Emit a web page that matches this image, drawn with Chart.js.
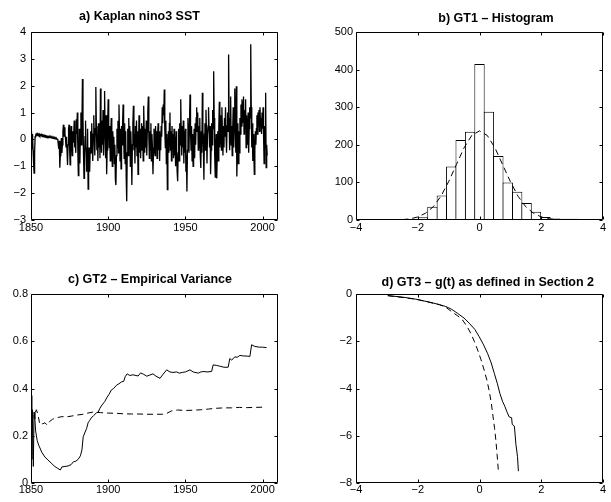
<!DOCTYPE html>
<html>
<head>
<meta charset="utf-8">
<title>GT panels</title>
<script src="https://cdn.jsdelivr.net/npm/chart.js@4.4.1/dist/chart.umd.min.js"></script>
<style>
  html, body { margin: 0; padding: 0; background: #fff; overflow: hidden; }
  .panel { position: absolute; }
</style>
</head>
<body>
<div class="panel" style="left:0;top:0;width:290px;height:240px"><canvas id="chartA"></canvas></div>
<div class="panel" style="left:305px;top:0;width:306px;height:240px"><canvas id="chartB"></canvas></div>
<div class="panel" style="left:0;top:251px;width:290px;height:251px"><canvas id="chartC"></canvas></div>
<div class="panel" style="left:305px;top:251px;width:306px;height:251px"><canvas id="chartD"></canvas></div>
<script>
// a) Kaplan nino3 SST, three readings per year starting 1850
const sstStart = 1850;
const sstPerYear = 3;
const sstValues = [
  0.30, 0.05, -0.35,   0.20, -0.40, -0.90,   -1.25, -0.50, 0.10,   0.15, 0.20, 0.18,   0.22, 0.18, 0.20,
  0.17, 0.20, 0.15,   0.18, 0.16, 0.19,   0.15, 0.17, 0.14,   0.16, 0.13, 0.15,   0.12, 0.14, 0.11,
  0.13, 0.10, 0.12,   0.09, 0.11, 0.08,   0.10, 0.07, 0.09,   0.06, 0.08, 0.05,   0.07, 0.04, 0.06,
  0.03, 0.05, 0.02,   0.04, 0.01, 0.03,   0.00, 0.02, -0.20,   -0.35, -0.05, -1.05,   -0.60, -0.30, 0.05,
  // 1870
  -0.50, -0.20, 0.30,   0.55, 0.10, 0.45,   0.20, 0.05, -0.30,   0.10, -0.40, -0.95,   -0.20, 0.40, 0.55,
  -0.30, -0.95, 0.10,   0.50, -0.20, -0.60,   0.30, -0.10, 0.20,   0.70, -0.30, 0.10,   -0.50, 0.75, 0.20,
  // 1880
  1.00, -0.40, -1.35,   -0.60, 0.40, -0.90,   0.30, 1.00, -0.20,   0.60, 2.25, 0.80,   -0.50, -1.45, -0.70,
  0.10, 0.70, -0.30,   -1.20, -0.60, 0.40,   -1.85, -0.90, -0.30,   -1.20, -0.40, 0.30,   -0.50, 0.60, -0.20,
  // 1890
  -0.80, 0.20, 0.90,   0.10, -0.60, 0.40,   1.95, 0.50, -0.40,   0.20, -0.80, 0.60,   -0.30, 0.40, -0.70,
  1.90, 0.30, -0.50,   0.70, -0.20, 1.10,   -0.60, 0.50, 1.80,   0.20, -0.70, 0.90,   -1.30, -0.40, 0.60,
  // 1900
  1.50, 0.40, -0.30,   0.50, -0.80, 0.20,   0.80, -0.40, -1.00,   0.30, -0.60, 0.10,   -0.90, -0.20, -1.50,
  -1.70, -0.60, 0.40,   -0.30, 0.70, -0.50,   1.30, 0.20, -0.80,   0.40, -1.10, 0.50,   -0.20, 0.60, 1.30,
  // 1910
  0.10, -0.70, 0.60,   -0.90, 0.30, -1.40,   -2.30, -0.50, 0.40,   -0.60, 0.80, -0.30,   0.50, -1.00, 0.30,
  -0.50, -1.70, -0.20,   0.60, 1.25, -0.40,   0.20, -0.90, 0.50,   -0.30, 0.70, -0.60,   0.30, -1.30, -0.20,
  // 1920
  0.90, -0.50, 0.40,   -0.70, 0.20, 0.60,   -0.40, 0.50, -0.80,   1.25, 0.30, -0.50,   0.40, -0.30, 0.70,
  -0.60, 0.30, 1.00,   1.60, 0.10, -0.70,   0.30, -0.40, 0.60,   -0.80, 0.20, -0.30,   -1.30, -0.50, 0.40,
  // 1930
  0.20, -0.60, 0.50,   -0.30, 0.30, -0.70,   0.10, 0.60, -0.40,   0.30, -0.80, 0.20,   -0.40, 0.50, 0.10,
  1.20, 0.60, 1.30,   0.90, 1.86, 0.40,   -0.30, 0.70, -0.90,   0.20, -1.87, -0.60,   0.30, -0.50, 0.60,
  // 1940
  1.00, -0.40, 0.30,   -0.80, 0.50, -0.30,   0.20, -0.70, 0.40,   -0.60, 0.10, -1.00,   0.30, -0.40, -1.20,
  -1.56, -0.50, 0.40,   -0.80, 0.60, -0.20,   1.50, 0.20, -0.60,   0.50, -0.30, 0.70,   -0.90, 0.30, -0.50,
  // 1950
  0.40, -1.20, -0.60,   -1.94, -0.40, 0.80,   0.20, -0.50, 0.60,   1.67, 0.30, -0.40,   0.50, -0.80, 0.20,
  -1.00, -0.30, 0.40,   -0.70, 0.60, -0.20,   0.80, 1.20, 0.30,   1.00, -0.40, 0.50,   -0.30, 0.80, -0.60,
  // 1960
  -1.06, 0.30, -0.50,   1.74, 0.40, -0.30,   -1.50, 0.20, 0.60,   -0.40, 1.10, 0.30,   -0.90, 0.20, 0.50,
  1.20, 0.40, -0.30,   0.50, -1.30, -0.40,   0.60, -0.20, 1.10,   0.40, 2.54, 0.80,   -0.60, -1.40, -0.30,
  // 1970
  0.20, -1.45, -0.50,   0.30, -0.80, 0.50,   1.40, -0.30, 0.60,   0.90, -0.40, 1.20,   0.20, -0.60, 0.50,
  -0.30, 0.80, 0.10,   1.20, 0.20, -0.50,   0.50, 1.00, 0.30,   3.16, 0.80, -0.40,   0.30, 1.60, -0.20,
  // 1980
  0.50, -0.60, 0.40,   1.20, -0.30, 0.70,   1.90, 0.40, -0.50,   1.98, -1.38, -0.40,   0.60, -0.90, 0.30,
  -0.50, 0.80, 0.20,   1.30, 0.50, 1.50,   0.60, 1.40, 1.60,   0.20, 1.10, 0.40,   1.50, -0.30, 0.90,
  // 1990
  0.30, -0.20, 1.00,   -0.50, 0.40, 1.20,   0.80, 3.54, 1.20,   -0.30, 0.60, -0.80,   0.20, -0.50, -1.30,
  -0.40, 0.30, -0.20,   0.40, 0.90, 0.20,   1.00, 0.50, 1.10,   0.30, 1.20, 0.60,   0.80, 0.20, 1.00,
  // 2000
  0.40, 1.20, 0.10,   -0.90, 0.50, -0.30,   1.74, -1.05, -0.20,   -0.60
];

// b) GT1 histogram: bin centres, counts, and the dashed fitted curve
const histCenters = [-2.745, -2.44, -2.135, -1.83, -1.525, -1.22, -0.915, -0.61, -0.305, 0,
                     0.305, 0.61, 0.915, 1.22, 1.525, 1.83, 2.135, 2.44, 2.745, 3.05, 3.355];
const histCounts = [1, 1, 2, 7, 35, 65, 142, 213, 235, 415, 288, 170, 100, 75, 45, 22, 8, 4, 3, 3, 2];
const fitX = [-2.5, -2.25, -2, -1.75, -1.5, -1.25, -1, -0.75, -0.5, -0.25, 0,
              0.25, 0.5, 0.75, 1, 1.25, 1.5, 1.75, 2, 2.25, 2.5];
const fitY = [1, 3, 8, 18, 35, 63, 102, 147, 192, 225, 237, 225, 192, 147, 102, 63, 35, 18, 8, 3, 1];

// c) GT2 empirical variance (solid) and reference (dashed)
const varYears = [1850, 1850.5, 1851, 1851.5, 1852, 1852.5, 1853, 1854, 1855, 1857, 1859,
  1861, 1863, 1865, 1867, 1869, 1870, 1872, 1874, 1876, 1877.5, 1879, 1880.5, 1882, 1883, 1883.8, 1885.3,
  1886, 1887, 1888, 1889, 1890.5, 1892.4, 1893.5, 1894.6, 1896, 1897.8, 1899, 1900.5, 1902.1, 1903.5,
  1905.4, 1907, 1908.6, 1910, 1911, 1912.3, 1914, 1916, 1918, 1919.4, 1921, 1923, 1925, 1927, 1929, 1931,
  1933.6, 1935.5, 1937.9, 1940, 1942, 1944.4, 1946, 1948, 1950, 1953, 1955, 1958.4, 1960, 1962, 1964,
  1967, 1968, 1970, 1972, 1975, 1977.7, 1978.8, 1980, 1982, 1983.5, 1985.3, 1987.5, 1990, 1991.8, 1992.9,
  1995, 1998, 2000, 2002.6];
const varValues = [0.37, 0.10, 0.31, 0.07, 0.30, 0.27, 0.22, 0.18, 0.16, 0.13, 0.11,
  0.097, 0.085, 0.072, 0.063, 0.055, 0.068, 0.070, 0.072, 0.078, 0.090, 0.092, 0.100, 0.115, 0.14, 0.195, 0.22,
  0.23, 0.255, 0.265, 0.275, 0.285, 0.297, 0.300, 0.316, 0.33, 0.345, 0.36, 0.375, 0.394, 0.40,
  0.414, 0.42, 0.428, 0.43, 0.45, 0.462, 0.455, 0.458, 0.455, 0.453, 0.466, 0.46, 0.452, 0.457, 0.462, 0.452,
  0.443, 0.46, 0.479, 0.47, 0.468, 0.47, 0.465, 0.468, 0.47, 0.479, 0.47, 0.465, 0.47, 0.472, 0.47,
  0.472, 0.50, 0.498, 0.495, 0.49, 0.49, 0.527, 0.52, 0.534, 0.532, 0.54, 0.538, 0.537, 0.536, 0.585,
  0.578, 0.575, 0.575, 0.573];
const refYears = [1850, 1850.5, 1851, 1851.5, 1852.5, 1853.5, 1854.5, 1855.5, 1856.5, 1857.5, 1859, 1860.5,
  1862, 1864, 1866, 1868, 1870, 1873, 1876, 1880, 1883, 1886, 1890, 1895, 1900, 1905, 1910, 1915, 1920,
  1925, 1930, 1935, 1938, 1941, 1945, 1950, 1955, 1960, 1965, 1969, 1975, 1980, 1985, 1990, 1995, 2001];
const refValues = [0.28, 0.30, 0.27, 0.29, 0.295, 0.31, 0.29, 0.255, 0.26, 0.25, 0.255, 0.245,
  0.26, 0.27, 0.275, 0.278, 0.281, 0.28, 0.283, 0.288, 0.29, 0.295, 0.30, 0.298, 0.296, 0.295, 0.293, 0.292, 0.292,
  0.291, 0.291, 0.291, 0.295, 0.305, 0.309, 0.307, 0.308, 0.31, 0.313, 0.316, 0.318, 0.318, 0.32, 0.319, 0.32, 0.321];

// d) GT3 g(t): data (solid) and reference (dashed)
const gX = [-2.97, -2.5, -2.06, -1.6, -1.3, -1.09, -0.9, -0.71, -0.5, -0.33, -0.15, -0.01, 0.12, 0.26,
  0.38, 0.48, 0.58, 0.66, 0.75, 0.82, 0.88, 0.96, 1.04, 1.06, 1.13, 1.18, 1.23, 1.26];
const gY = [-0.07, -0.13, -0.22, -0.35, -0.45, -0.53, -0.65, -0.82, -1.02, -1.24, -1.5, -1.81, -2.12, -2.51,
  -2.92, -3.36, -3.8, -4.21, -4.56, -4.75, -4.96, -5.2, -5.24, -5.52, -5.59, -6.37, -6.87, -7.5];
const gRefX = [-2.97, -2.06, -1.3, -1.09, -0.87, -0.7, -0.55, -0.4, -0.28, -0.17, -0.06, 0.05, 0.15,
  0.24, 0.31, 0.38, 0.44, 0.49, 0.53, 0.57, 0.61];
const gRefY = [-0.07, -0.22, -0.45, -0.56, -0.78, -0.93, -1.1, -1.38, -1.67, -2.0, -2.37, -2.78, -3.22,
  -3.65, -4.07, -4.6, -5.2, -5.7, -6.19, -6.8, -7.46];

Chart.defaults.font.family = "'Liberation Sans', Arial, Helvetica, sans-serif";
Chart.defaults.font.size = 11;
Chart.defaults.color = '#000';
Chart.defaults.animation = false;

const toPoints = (xs, ys) => xs.map((x, i) => ({ x: x, y: ys[i] }));
const sstPoints = sstValues.map((v, i) => ({ x: sstStart + i / sstPerYear, y: v }));
const fmt = v => String(+Number(v).toFixed(2)).replace('-', '\u2212');
const titleFont = { family: "'Liberation Sans', Arial, Helvetica, sans-serif", size: 12.5, weight: 'bold' };

// box around the axes with small inward ticks on all four sides
const frameTicks = {
  id: 'frameTicks',
  afterDraw(chart) {
    const { ctx, chartArea: a } = chart;
    const sx = chart.scales.x, sy = chart.scales.y;
    const L = Math.round(a.left) + 0.5, R = Math.round(a.right) - 0.5;
    const T = Math.round(a.top) + 0.5, B = Math.round(a.bottom) - 0.5;
    ctx.save();
    ctx.strokeStyle = '#000';
    ctx.lineWidth = 1;
    ctx.beginPath();
    ctx.rect(L, T, R - L, B - T);
    sx.ticks.forEach(t => {
      const p = Math.round(sx.getPixelForValue(t.value)) + 0.5;
      ctx.moveTo(p, B); ctx.lineTo(p, B - 3);
      ctx.moveTo(p, T); ctx.lineTo(p, T + 3);
    });
    sy.ticks.forEach(t => {
      const p = Math.round(sy.getPixelForValue(t.value)) + 0.5;
      ctx.moveTo(L, p); ctx.lineTo(L + 3, p);
      ctx.moveTo(R, p); ctx.lineTo(R - 3, p);
    });
    ctx.stroke();
    ctx.restore();
  }
};

// the titles in the figure sit a little off the axes centre
const titleShift = {
  id: 'titleShift',
  afterLayout(chart, args, opts) {
    const t = chart.titleBlock;
    if (!t) return;
    const c = (chart.chartArea.left + chart.chartArea.right) / 2 + (opts.dx || 0);
    t.left = c - 170;
    t.right = c + 170;
  }
};

function axes(o) {
  return {
    x: {
      type: 'linear', min: o.xMin, max: o.xMax, offset: false,
      grid: { display: false, drawTicks: false }, border: { display: false },
      ticks: { stepSize: o.xStep, includeBounds: false, padding: o.xPad, maxRotation: 0, autoSkip: false, callback: fmt },
      afterBuildTicks: s => { s.ticks = s.ticks.filter(t => t.value <= o.xLast); },
      afterFit: s => { s.height = o.xHeight; }
    },
    y: {
      type: 'linear', min: o.yMin, max: o.yMax,
      grid: { display: false, drawTicks: false }, border: { display: false },
      ticks: { stepSize: o.yStep, padding: o.yPad, autoSkip: false, callback: fmt },
      afterFit: s => { s.width = o.yWidth; }
    }
  };
}

function panelOptions(title, pad, dx, padRight, scales) {
  return {
    responsive: true,
    maintainAspectRatio: false,
    layout: { padding: { right: padRight } },
    plugins: {
      legend: { display: false },
      tooltip: { enabled: false },
      title: { display: true, text: title, font: titleFont, padding: pad },
      titleShift: { dx: dx }
    },
    scales: scales
  };
}

const solid = { borderColor: '#000', borderWidth: 1, pointRadius: 0, fill: false };
const dashed = { borderColor: '#000', borderWidth: 1, pointRadius: 0, fill: false, borderDash: [6, 4] };

new Chart(document.getElementById('chartA'), {
  type: 'line',
  data: { datasets: [Object.assign({ data: sstPoints }, solid, { borderWidth: 1.3 })] },
  options: panelOptions('a) Kaplan nino3 SST', { top: 9.2, bottom: 7.8 }, -15, 12,
    axes({ xMin: 1850, xMax: 2010, xStep: 50, xLast: 2000, xPad: 1.5, xHeight: 20,
           yMin: -3, yMax: 4, yStep: 1, yPad: 5, yWidth: 31 })),
  plugins: [frameTicks, titleShift]
});

new Chart(document.getElementById('chartB'), {
  type: 'bar',
  data: {
    datasets: [
      Object.assign({ type: 'line', data: toPoints(fitX, fitY) }, dashed),
      {
        type: 'bar', data: toPoints(histCenters, histCounts),
        backgroundColor: '#fff', borderColor: '#000', borderWidth: 1, borderSkipped: false,
        barPercentage: 1.1, categoryPercentage: 1, grouped: false
      }
    ]
  },
  options: panelOptions('b) GT1 \u2013 Histogram', { top: 10.8, bottom: 6.2 }, 16.5, 8,
    axes({ xMin: -4, xMax: 4, xStep: 2, xLast: 4, xPad: 1.5, xHeight: 20,
           yMin: 0, yMax: 500, yStep: 100, yPad: 3, yWidth: 51 })),
  plugins: [frameTicks, titleShift]
});

new Chart(document.getElementById('chartC'), {
  type: 'line',
  data: {
    datasets: [
      Object.assign({ data: toPoints(varYears, varValues) }, solid),
      Object.assign({ data: toPoints(refYears, refValues) }, dashed)
    ]
  },
  options: panelOptions('c) GT2 \u2013 Empirical Variance', { top: 20.8, bottom: 7.2 }, -4.5, 12,
    axes({ xMin: 1850, xMax: 2010, xStep: 50, xLast: 2000, xPad: 0.5, xHeight: 19,
           yMin: 0, yMax: 0.8, yStep: 0.2, yPad: 3, yWidth: 31 })),
  plugins: [frameTicks, titleShift]
});

new Chart(document.getElementById('chartD'), {
  type: 'line',
  data: {
    datasets: [
      Object.assign({ data: toPoints(gX, gY) }, solid),
      Object.assign({ data: toPoints(gRefX, gRefY) }, dashed)
    ]
  },
  options: panelOptions('d) GT3 \u2013 g(t) as defined in Section 2', { top: 24, bottom: 4 }, 8.3, 8,
    axes({ xMin: -4, xMax: 4, xStep: 2, xLast: 4, xPad: 0.5, xHeight: 19,
           yMin: -8, yMax: 0, yStep: 2, yPad: 4, yWidth: 51 })),
  plugins: [frameTicks, titleShift]
});
</script>
</body>
</html>
